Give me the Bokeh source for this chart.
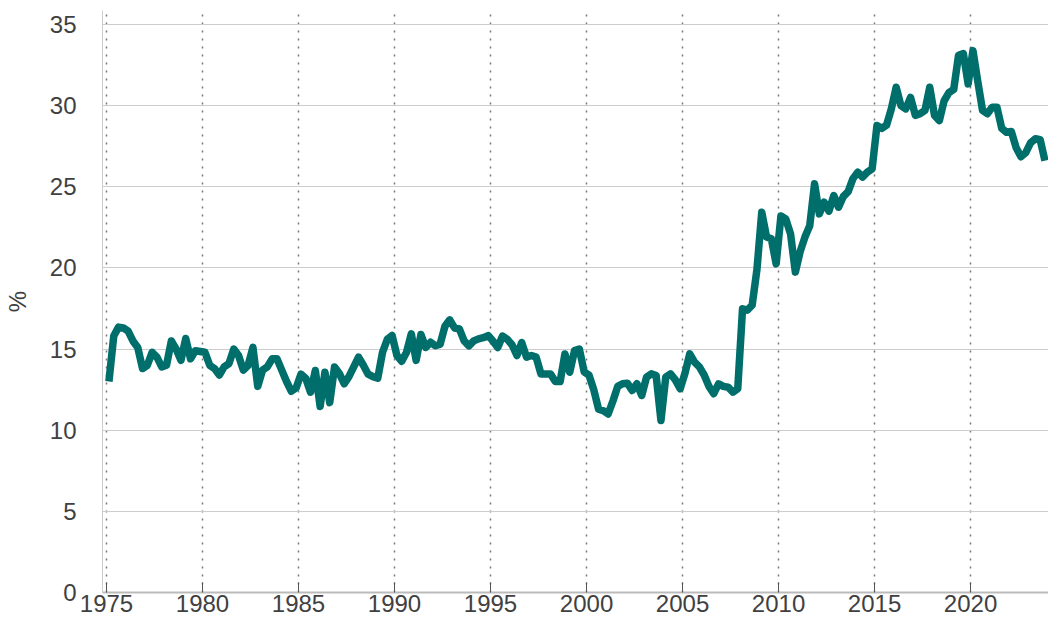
from bokeh.plotting import figure
from bokeh.models import FixedTicker, Range1d
from bokeh.embed import file_html
from bokeh.resources import INLINE

# Quarterly share (%) from 1975 Q1 onward
start_year = 1975
values = [
    13.0, 15.8, 16.35, 16.3, 16.1, 15.5, 15.1, 13.8, 14.0, 14.8,
    14.5, 13.9, 14.0, 15.5, 15.0, 14.3, 15.65, 14.4, 14.9, 14.85,
    14.8, 14.0, 13.8, 13.4, 13.9, 14.1, 15.0, 14.6, 13.7, 14.0,
    15.1, 12.7, 13.7, 13.9, 14.4, 14.4, 13.7, 13.0, 12.4, 12.6,
    13.45, 13.2, 12.34, 13.68, 11.46, 13.57, 11.7, 13.9, 13.5, 12.86,
    13.3, 13.9, 14.5, 14.0, 13.45, 13.3, 13.2, 14.8, 15.6, 15.83,
    14.6, 14.25, 14.8, 15.94, 14.3, 15.9, 15.1, 15.42, 15.2, 15.3,
    16.4, 16.8, 16.3, 16.24, 15.5, 15.2, 15.5, 15.63, 15.7, 15.83,
    15.5, 15.1, 15.8, 15.6, 15.25, 14.6, 15.4, 14.5, 14.6, 14.5,
    13.47, 13.47, 13.47, 13.0, 13.0, 14.7, 13.57, 14.9, 15.0, 13.6,
    13.4, 12.5, 11.3, 11.2, 11.0, 11.8, 12.7, 12.86, 12.9, 12.45,
    12.86, 12.14, 13.27, 13.47, 13.37, 10.6, 13.27, 13.47, 13.1, 12.55,
    13.5, 14.7, 14.2, 13.9, 13.4, 12.7, 12.25, 12.86, 12.7, 12.65,
    12.34, 12.55, 17.48, 17.4, 17.7, 19.9, 23.43, 21.9, 21.79, 20.25,
    23.2, 23.02, 22.1, 19.74, 21.0, 21.9, 22.6, 25.18, 23.33, 24.05,
    23.5, 24.46, 23.74, 24.4, 24.7, 25.5, 25.9, 25.6, 25.9, 26.1,
    28.77, 28.6, 28.8, 29.8, 31.13, 30.0, 29.8, 30.5, 29.4, 29.5,
    29.7, 31.13, 29.39, 29.08, 30.3, 30.8, 31.0, 33.1, 33.2, 31.34,
    33.39, 31.5, 29.7, 29.5, 29.9, 29.9, 28.6, 28.36, 28.4, 27.4,
    26.85, 27.1, 27.7, 27.96, 27.9, 26.6,
]
dates = [start_year + 0.125 + 0.25 * i for i in range(len(values))]

x_ticks = [1975, 1980, 1985, 1990, 1995, 2000, 2005, 2010, 2015, 2020]
y_ticks = [0, 5, 10, 15, 20, 25, 30, 35]

FONT = "Liberation Sans"
TXT = "#404040"

p = figure(width=1048, height=630, output_backend="svg", toolbar_location=None,
           x_range=Range1d(1974.79, 2024.06), y_range=Range1d(0, 35.86),
           min_border_left=100, min_border_right=0, min_border_top=10,
           min_border_bottom=38)
p.outline_line_color = None
p.background_fill_color = "white"

p.line(dates, values, line_color="#006e6b", line_width=7.5, line_join="round")

# x axis
p.xaxis.ticker = FixedTicker(ticks=x_ticks)
p.xaxis.major_label_text_font = FONT
p.xaxis.major_label_text_font_size = "24px"
p.xaxis.major_label_text_color = TXT
p.xaxis.axis_line_color = "#bbbbbb"
p.xaxis.axis_line_width = 2
p.xaxis.major_tick_in = 10
p.xaxis.major_tick_out = 0
p.xaxis.major_tick_line_color = "#555555"
p.xaxis.minor_tick_line_color = None
p.xaxis.major_label_standoff = 2

# y axis
p.yaxis.ticker = FixedTicker(ticks=y_ticks)
p.yaxis.major_label_text_font = FONT
p.yaxis.major_label_text_font_size = "24px"
p.yaxis.major_label_text_color = TXT
p.yaxis.axis_line_color = "#cccccc"
p.yaxis.major_tick_line_color = None
p.yaxis.minor_tick_line_color = None
p.yaxis.major_label_standoff = 20
p.yaxis.axis_label = "%"
p.yaxis.axis_label_text_font = FONT
p.yaxis.axis_label_text_font_size = "24px"
p.yaxis.axis_label_text_font_style = "normal"
p.yaxis.axis_label_text_color = TXT
p.yaxis.axis_label_standoff = 16

# grids
p.xgrid.grid_line_color = "#777777"
p.xgrid.grid_line_dash = "2 6"
p.xgrid.grid_line_width = 1.5
p.ygrid.grid_line_color = "#cccccc"
p.ygrid.grid_line_width = 1

open("out.html", "w").write(file_html(p, INLINE))
